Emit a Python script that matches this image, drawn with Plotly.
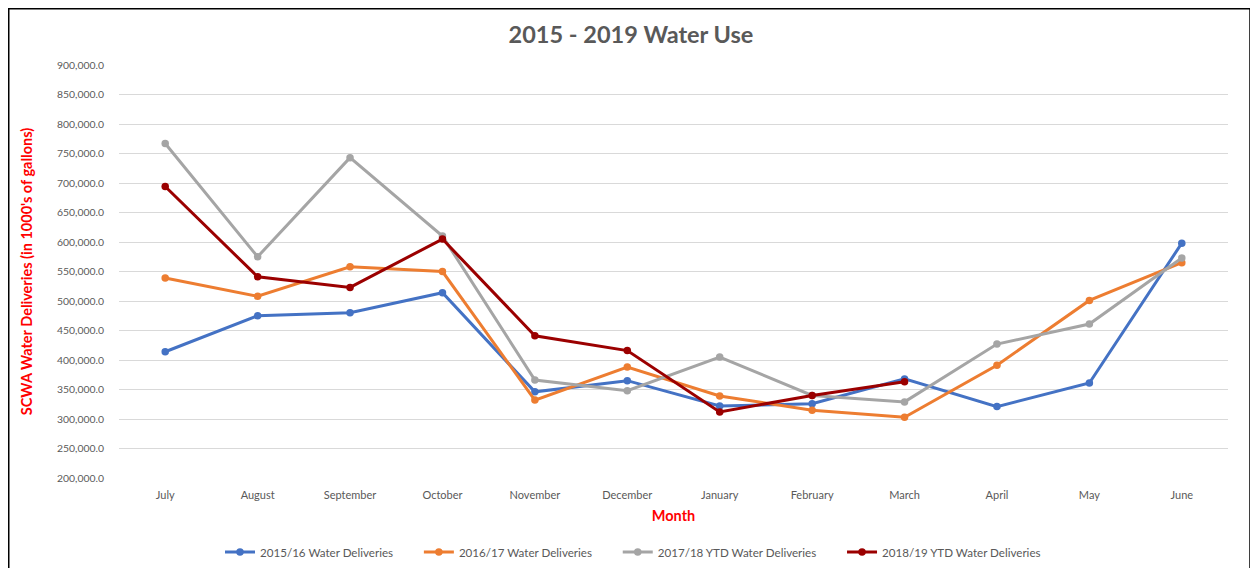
import plotly.graph_objects as go

months = ["July", "August", "September", "October", "November", "December",
          "January", "February", "March", "April", "May", "June"]
s1516 = [414000, 475000, 480000, 514000, 346000, 365000, 322000, 326000, 368000, 321000, 361000, 598000]
s1617 = [539000, 508000, 558000, 550000, 332000, 388000, 339000, 315000, 303000, 391000, 501000, 565000]
s1718 = [767000, 575000, 743000, 610000, 366000, 348000, 405000, 340000, 329000, 427000, 461000, 573000]
s1819 = [694000, 541000, 523000, 605000, 441000, 416000, 312000, 340000, 363000]

names = ["2015/16 Water Deliveries", "2016/17 Water Deliveries",
         "2017/18 YTD Water Deliveries", "2018/19 YTD Water Deliveries"]
colors = ["#4472C4", "#ED7D31", "#A5A5A5", "#9B0000"]
series = [s1516, s1617, s1718, s1819]

PAD = "\u00a0" * 7  # spacing between legend entries

fig = go.Figure()
for n, c, s in zip(names, colors, series):
    fig.add_trace(go.Scatter(
        x=months[:len(s)], y=s, name=n + PAD, mode="lines+markers",
        line=dict(color=c, width=3), marker=dict(color=c, size=7.5)))

fnt = "Lato, 'Open Sans', sans-serif"
OFF = 8  # page body margin
L, R, T, B = 119 - OFF, 1228 - OFF, 65 - OFF, 478 - OFF
W, H = 1258 - OFF, 568 - OFF
w_plot = R - L
h_plot = B - T
fig.update_layout(
    width=W, height=H,
    margin=dict(l=L, r=W - R, t=T, b=H - B, autoexpand=False),
    paper_bgcolor="white", plot_bgcolor="white",
    font=dict(family=fnt, color="#595959", size=11),
    title=dict(text="<b>2015 - 2019 Water Use</b>", x=(631 - OFF - L) / w_plot, xref="paper",
               xanchor="center", y=1 - (35 - OFF) / H, yanchor="middle",
               font=dict(size=23.5, color="#595959", family=fnt)),
    xaxis=dict(type="category", showgrid=False, showline=False, ticks="",
               automargin=False, ticklabelstandoff=9,
               tickfont=dict(size=11, color="#595959"),
               title=dict(text="<b>Month</b>", font=dict(size=14.5, color="#FF0000"), standoff=10),
               range=[-0.5, 11.5]),
    yaxis=dict(range=[200000, 900000], dtick=50000, tickformat=",.1f",
               automargin=False, ticklabelstandoff=14,
               gridcolor="#D9D9D9", gridwidth=1, zeroline=False, showline=False,
               tickfont=dict(size=10.4, color="#595959"),
               title=dict(text="<b>SCWA Water Deliveries (in 1000's of gallons)</b>",
                          font=dict(size=14.5, color="#FF0000"), standoff=20)),
    legend=dict(orientation="h", x=(220 - OFF - L) / w_plot, xanchor="left",
                y=-(552 - 478) / h_plot, yanchor="middle",
                font=dict(size=11.6, color="#595959"),
                itemwidth=30, tracegroupgap=0),
    showlegend=True,
)
# outer chart border
fig.add_shape(type="rect", xref="paper", yref="paper",
              x0=(0.75 - L) / w_plot, x1=(1250 - OFF - L) / w_plot,
              y0=(B - 600) / h_plot, y1=(B - 0.75) / h_plot,
              line=dict(color="black", width=1.5), fillcolor="rgba(0,0,0,0)")

fig.write_html("out.html")
